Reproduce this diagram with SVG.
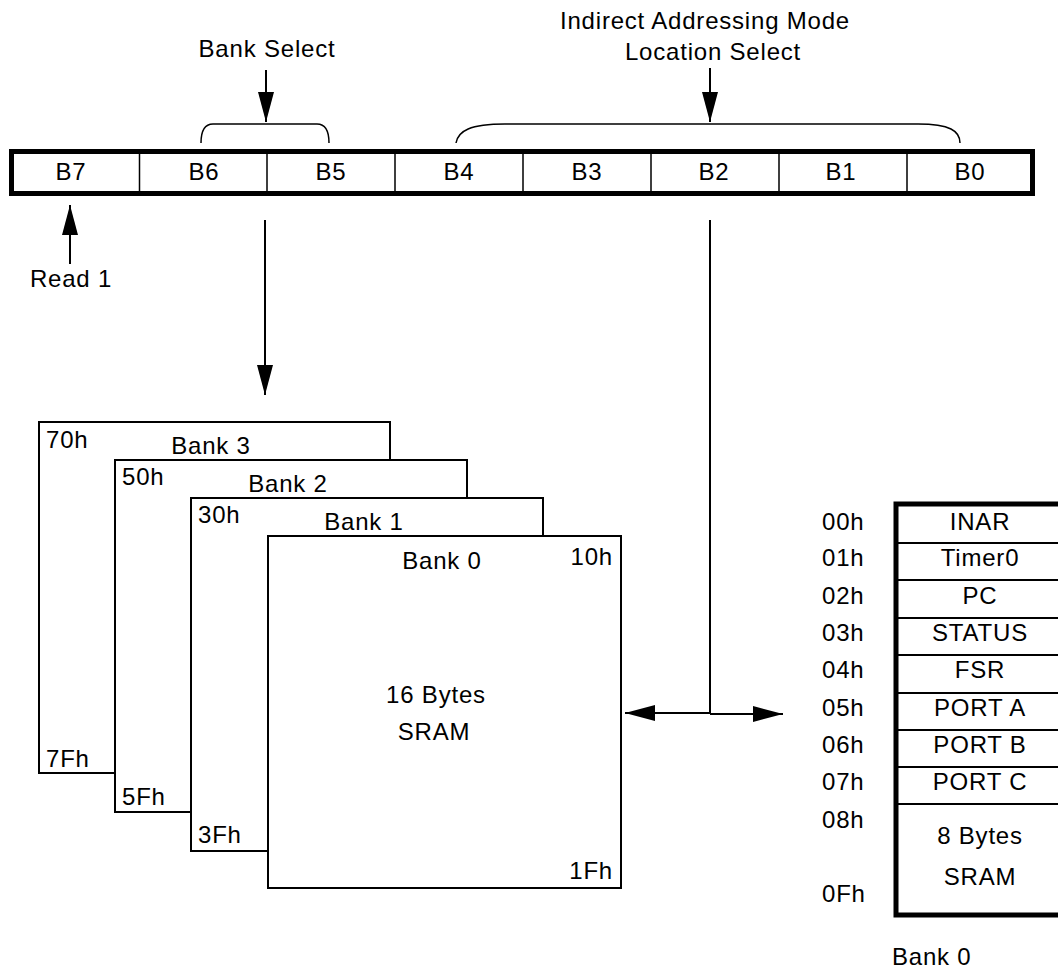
<svg xmlns="http://www.w3.org/2000/svg" width="1058" height="969" viewBox="0 0 1058 969">
<style>
text{font-family:"Liberation Sans",Arial,sans-serif;font-size:24px;letter-spacing:0.8px;fill:#000}
.c{text-anchor:middle}
.e{text-anchor:end}
.ln{stroke:#000;stroke-width:2;fill:none}
.thin{stroke:#000;stroke-width:1.5;fill:none}
.bank{stroke:#000;stroke-width:2;fill:#fff}
.thick{stroke:#000;stroke-width:5;fill:#fff}
</style>
<defs>
<marker id="ah" viewBox="0 0 30 16" refX="30" refY="8" markerWidth="30" markerHeight="16" markerUnits="userSpaceOnUse" orient="auto">
<path d="M0,0 L30,8 L0,16 Z" fill="#000"/>
</marker>
</defs>
<g id="register">
<rect class="thick" x="11.5" y="151.5" width="1021" height="42"/>
<path class="thin" d="M139.5,153 V192 M267,153 V192 M395,153 V192 M523,153 V192 M651,153 V192 M779,153 V192 M907,153 V192"/>
<text class="c" x="71" y="180">B7</text>
<text class="c" x="204" y="180">B6</text>
<text class="c" x="331" y="180">B5</text>
<text class="c" x="459" y="180">B4</text>
<text class="c" x="587" y="180">B3</text>
<text class="c" x="714" y="180">B2</text>
<text class="c" x="841" y="180">B1</text>
<text class="c" x="970" y="180">B0</text>
</g>
<g id="bank-select">
<text class="c" x="267" y="57">Bank Select</text>
<path class="thin" d="M201,143 C201,131 204,124 213,124 L317,124 C326,124 329,131 329,143"/>
</g>
<g id="indirect">
<text class="c" x="705" y="29">Indirect Addressing Mode</text>
<text class="c" x="713" y="60">Location Select</text>
<path class="thin" d="M456,143 C458,131 470,124 505,124 L918,124 C950,124 960,131 960,143"/>
</g>
<g id="read1">
<text class="c" x="71" y="287">Read 1</text>
</g>
<g id="bank3">
<rect class="bank" x="39" y="422" width="351" height="351"/>
<text x="46" y="448">70h</text>
<text class="c" x="211" y="454">Bank 3</text>
<text x="46" y="767">7Fh</text>
</g>
<g id="bank2">
<rect class="bank" x="115" y="460" width="352" height="352"/>
<text x="122" y="485">50h</text>
<text class="c" x="288" y="492">Bank 2</text>
<text x="122" y="805">5Fh</text>
</g>
<g id="bank1">
<rect class="bank" x="191" y="498" width="352" height="353"/>
<text x="198" y="523">30h</text>
<text class="c" x="364" y="530">Bank 1</text>
<text x="198" y="843">3Fh</text>
</g>
<g id="bank0">
<rect class="bank" x="268" y="536" width="353" height="352"/>
<text class="c" x="442" y="569">Bank 0</text>
<text class="e" x="613" y="565">10h</text>
<text class="c" x="436" y="703">16 Bytes</text>
<text class="c" x="434" y="740">SRAM</text>
<text class="e" x="613" y="879">1Fh</text>
</g>
<g id="regfile">
<rect class="thick" x="896" y="504" width="166" height="411"/>
<path class="ln" d="M896,543 H1058 M896,580 H1058 M896,618 H1058 M896,655 H1058 M896,693 H1058 M896,730 H1058 M896,767 H1058 M896,804 H1058"/>
<text class="c" x="980" y="530">INAR</text>
<text class="c" x="980" y="566">Timer0</text>
<text class="c" x="980" y="604">PC</text>
<text class="c" x="980" y="641">STATUS</text>
<text class="c" x="980" y="678">FSR</text>
<text class="c" x="980" y="716">PORT A</text>
<text class="c" x="980" y="753">PORT B</text>
<text class="c" x="980" y="790">PORT C</text>
<text class="c" x="980" y="844">8 Bytes</text>
<text class="c" x="980" y="885">SRAM</text>
<text x="822" y="530">00h</text>
<text x="822" y="566">01h</text>
<text x="822" y="604">02h</text>
<text x="822" y="641">03h</text>
<text x="822" y="678">04h</text>
<text x="822" y="716">05h</text>
<text x="822" y="753">06h</text>
<text x="822" y="790">07h</text>
<text x="822" y="828">08h</text>
<text x="822" y="902">0Fh</text>
<text x="892" y="965">Bank 0</text>
</g>
<g id="connectors">
<line class="ln" x1="266" y1="70" x2="266" y2="122" marker-end="url(#ah)"/>
<line class="ln" x1="710" y1="68" x2="710" y2="122" marker-end="url(#ah)"/>
<line class="ln" x1="70" y1="264" x2="70" y2="205" marker-end="url(#ah)"/>
<line class="ln" x1="265" y1="220" x2="265" y2="395" marker-end="url(#ah)"/>
<line class="ln" x1="710" y1="220" x2="710" y2="714"/>
<line class="ln" x1="710" y1="713" x2="625" y2="713" marker-end="url(#ah)"/>
<line class="ln" x1="710" y1="714" x2="783" y2="714" marker-end="url(#ah)"/>
</g>
</svg>
